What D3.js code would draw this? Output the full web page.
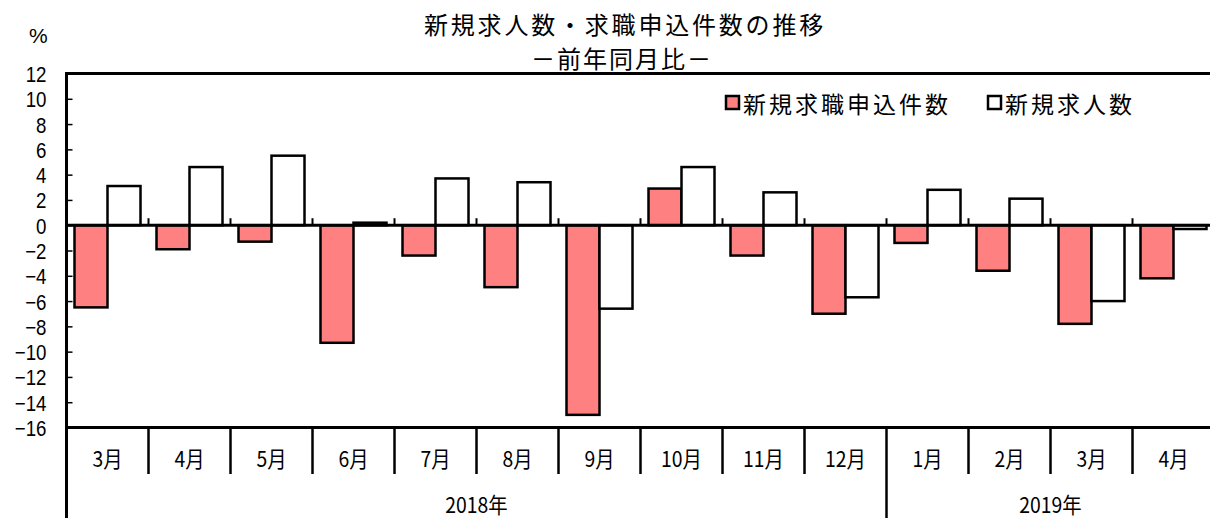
<!DOCTYPE html>
<html>
<head>
<meta charset="utf-8">
<script src="https://cdn.jsdelivr.net/npm/d3@7"></script>
<style>
  body { margin: 0; background: #fff; }
  text { font-family: "Noto Sans CJK JP", sans-serif; fill: #000; }
</style>
</head>
<body>
<script>
// 月ラベル（2018年3月〜2019年4月）
const months = ["3月", "4月", "5月", "6月", "7月", "8月", "9月", "10月", "11月", "12月", "1月", "2月", "3月", "4月"];
const yearLabels = ["2018年", "2019年"];
const yearSpans = [10, 4];
// 前年同月比（%）
const applicants = [-6.5, -1.9, -1.3, -9.3, -2.4, -4.9, -15.0, 2.9, -2.4, -7.0, -1.4, -3.6, -7.8, -4.2]; // 新規求職申込件数
const openings = [3.1, 4.6, 5.5, 0.2, 3.7, 3.4, -6.6, 4.6, 2.6, -5.7, 2.8, 2.1, -6.0, -0.3];          // 新規求人数
const yTicks = [12, 10, 8, 6, 4, 2, 0, -2, -4, -6, -8, -10, -12, -14, -16];

const width = 1210, height = 518;
const plotLeft = 66.5, plotTop = 73.5, plotBottom = 427.5, step = 82;

const svg = d3.select("body").append("svg")
    .attr("width", width)
    .attr("height", height);

const x = d3.scaleBand()
    .domain(d3.range(months.length))
    .range([plotLeft, plotLeft + step * months.length]);

const xs = d3.scaleBand()
    .domain(["a", "o"])
    .range([8, 74]);

const y = d3.scaleLinear()
    .domain([-16, 12])
    .range([plotBottom, plotTop]);

// タイトル
svg.append("text")
    .attr("x", 424).attr("y", 23)
    .attr("dominant-baseline", "central")
    .style("font-size", "24px")
    .style("letter-spacing", "2.8px")
    .text("新規求人数・求職申込件数の推移");
svg.append("text")
    .attr("x", 531).attr("y", 57)
    .attr("dominant-baseline", "central")
    .style("font-size", "24px")
    .style("letter-spacing", "2px")
    .text("－前年同月比－");

svg.append("text")
    .attr("x", 29).attr("y", 35)
    .attr("dominant-baseline", "central")
    .style("font-family", "'Liberation Sans', sans-serif")
    .style("font-size", "21px")
    .text("%");

// 棒
const rows = months.map((m, i) => ({ i: i, a: applicants[i], o: openings[i] }));

const g = svg.selectAll(".grp")
    .data(rows)
    .enter().append("g")
    .attr("class", "grp")
    .attr("transform", d => "translate(" + x(d.i) + ",0)");

g.append("rect")
    .attr("x", xs("a"))
    .attr("width", xs.bandwidth())
    .attr("y", d => y(Math.max(0, d.a)))
    .attr("height", d => Math.abs(y(d.a) - y(0)))
    .attr("fill", "#ff8080")
    .attr("stroke", "#000")
    .attr("stroke-width", 2.5);

g.append("rect")
    .attr("x", xs("o"))
    .attr("width", xs.bandwidth())
    .attr("y", d => y(Math.max(0, d.o)))
    .attr("height", d => Math.abs(y(d.o) - y(0)))
    .attr("fill", "#fff")
    .attr("stroke", "#000")
    .attr("stroke-width", 2.5);

// Y軸
const yAxis = svg.append("g")
    .attr("transform", "translate(" + plotLeft + ",0)")
    .call(d3.axisLeft(y).tickValues(yTicks).tickSizeInner(-6).tickSizeOuter(0).tickPadding(20));
yAxis.select(".domain").remove();
yAxis.selectAll("line").attr("stroke-width", 1.5);
yAxis.selectAll("text")
    .style("font-size", "22px")
    .style("font-family", "'Liberation Sans', sans-serif")
    .attr("x", -20 / 0.85)
    .attr("dy", "0.36em")
    .attr("transform", "scale(0.85,1)");

// 枠線
const frame = svg.append("g").attr("stroke", "#000").attr("stroke-width", 3);
frame.append("line").attr("x1", plotLeft).attr("x2", width + 10).attr("y1", plotTop).attr("y2", plotTop);
frame.append("line").attr("x1", plotLeft).attr("x2", width + 10).attr("y1", plotBottom).attr("y2", plotBottom);
frame.append("line").attr("x1", plotLeft).attr("x2", plotLeft).attr("y1", plotTop - 1.5).attr("y2", height);

// ゼロ線と目盛
frame.append("line").attr("x1", plotLeft).attr("x2", width + 10).attr("y1", y(0)).attr("y2", y(0));
svg.append("g").selectAll("line")
    .data(d3.range(1, months.length))
    .enter().append("line")
    .attr("x1", d => x(d)).attr("x2", d => x(d))
    .attr("y1", y(0) - 7).attr("y2", y(0))
    .attr("stroke", "#000").attr("stroke-width", 2);

// 月の区切り
const yearEnds = d3.cumsum(yearSpans);
svg.append("g").selectAll("line")
    .data(d3.range(1, months.length))
    .enter().append("line")
    .attr("x1", d => x(d)).attr("x2", d => x(d))
    .attr("y1", plotBottom)
    .attr("y2", d => yearEnds.includes(d) ? height : 474)
    .attr("stroke", "#000").attr("stroke-width", 2.5);

// 月ラベル
svg.append("g").selectAll("text")
    .data(rows)
    .enter().append("text")
    .attr("transform", d => "translate(" + (x(d.i) + step / 2) + ",457) scale(0.88,1)")
    .attr("text-anchor", "middle")
    .attr("dominant-baseline", "central")
    .style("font-size", "22px")
    .text(d => months[d.i]);

// 年ラベル
yearLabels.forEach((lab, k) => {
    const s = k === 0 ? 0 : yearEnds[k - 1];
    const cx = (x(s) + x(s) + step * yearSpans[k]) / 2;
    svg.append("text")
        .attr("transform", "translate(" + cx + ",503) scale(0.88,1)")
        .attr("text-anchor", "middle")
        .attr("dominant-baseline", "central")
        .style("font-size", "22px")
        .text(lab);
});

// 凡例
const legendItems = [
    { label: "新規求職申込件数", fill: "#ff8080", x: 725 },
    { label: "新規求人数", fill: "#fff", x: 987 }
];
const lg = svg.selectAll(".legend")
    .data(legendItems)
    .enter().append("g")
    .attr("class", "legend")
    .attr("transform", d => "translate(" + d.x + ",0)");
lg.append("rect")
    .attr("x", 1).attr("y", 96)
    .attr("width", 13).attr("height", 13)
    .attr("fill", d => d.fill)
    .attr("stroke", "#000").attr("stroke-width", 2.5);
lg.append("text")
    .attr("x", 18).attr("y", 103)
    .attr("dominant-baseline", "central")
    .style("font-size", "23px")
    .style("letter-spacing", "3px")
    .text(d => d.label);
</script>
</body>
</html>
